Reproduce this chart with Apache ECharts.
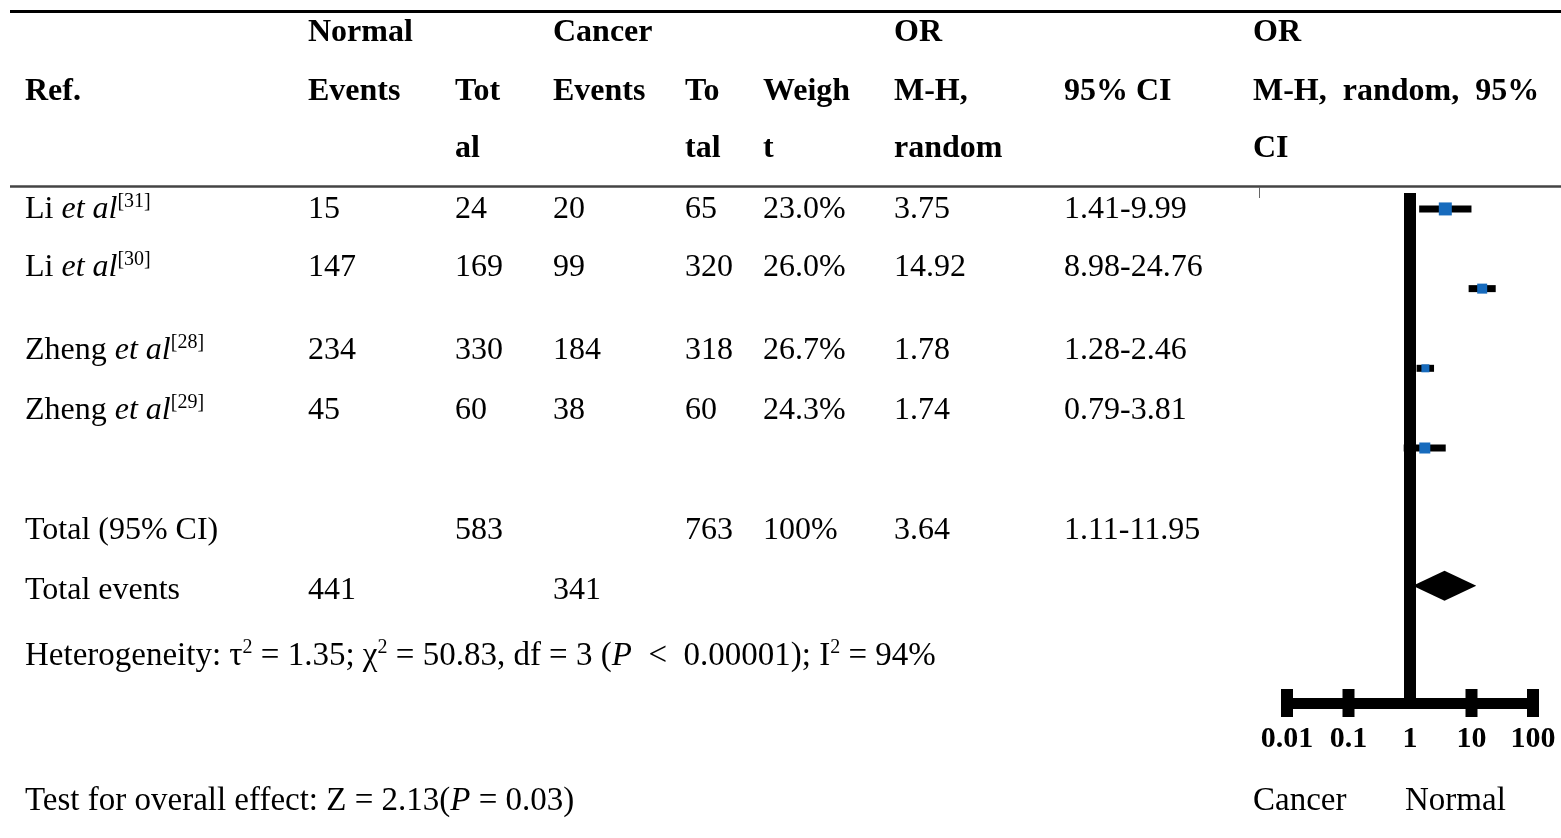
<!DOCTYPE html>
<html>
<head>
<meta charset="utf-8">
<script src="https://cdn.jsdelivr.net/npm/echarts@6/dist/echarts.min.js"></script>
<style>
html,body{margin:0;padding:0;background:#fff;}
#chart{width:1561px;height:838px;}
</style>
</head>
<body>
<div id="chart"></div>
<script>
// ---------------- DATA ----------------
const studies = ['Li', 'Li', 'Zheng', 'Zheng'];
const refNums = [31, 30, 28, 29];
const normalEvents = [15, 147, 234, 45];
const normalTotal = [24, 169, 330, 60];
const cancerEvents = [20, 99, 184, 38];
const cancerTotal = [65, 320, 318, 60];
const weights = [23.0, 26.0, 26.7, 24.3];
const orValues = [3.75, 14.92, 1.78, 1.74];
const ciLow = [1.41, 8.98, 1.28, 0.79];
const ciHigh = [9.99, 24.76, 2.46, 3.81];

const totalNormal = 583;
const totalCancer = 763;
const totalWeight = 100;
const totalOR = 3.64;
const totalLow = 1.11;
const totalHigh = 11.95;
const totalEventsNormal = 441;
const totalEventsCancer = 341;

const tau2 = '1.35';
const chi2 = '50.83';
const dfHet = 3;
const pHet = '0.00001';
const i2 = 94;
const zOverall = '2.13';
const pOverall = '0.03';

const tickValues = [0.01, 0.1, 1, 10, 100];
const tickLabels = ['0.01', '0.1', '1', '10', '100'];

// ---------------- LAYOUT / STYLE ----------------
const FONT = '"Liberation Serif", "Times New Roman", serif';
const plotRows = [1, 2, 3, 4];      // plot row slots (y axis units)
const summaryRow = 5.73;
const yMin = 0.8, yMax = 7.2;
const markerSizes = [13, 10, 8, 11];
const colX = {ref: 25, nEv: 308, nTot: 455, cEv: 553, cTot: 685, wt: 763, or: 894, ci: 1064, plot: 1253};
const rowY = [210, 268, 351, 411];
const totalY = 531, eventsY = 591, hetY = 656, testY = 801;

const rich = {
  n: {fontSize: 32, fontFamily: FONT, lineHeight: 36, fill: '#000'},
  it: {fontSize: 32, fontFamily: FONT, fontStyle: 'italic', lineHeight: 36, fill: '#000'},
  sup: {fontSize: 20, fontFamily: FONT, lineHeight: 19, verticalAlign: 'top', fill: '#000'}
};
const richHet = {
  n: {fontSize: 33, fontFamily: FONT, lineHeight: 36, fill: '#000'},
  it: {fontSize: 33, fontFamily: FONT, fontStyle: 'italic', lineHeight: 36, fill: '#000'},
  sup: {fontSize: 20, fontFamily: FONT, lineHeight: 19, verticalAlign: 'top', fill: '#000'}
};

function txt(x, y, text, style) {
  return {
    type: 'text', x: x, y: y, silent: true,
    style: Object.assign({
      text: text, fill: '#000', fontSize: 32, fontFamily: FONT,
      align: 'left', verticalAlign: 'middle', rich: rich
    }, style || {})
  };
}
function head(x, y, text) {
  return txt(x, y, text, {fontSize: 32, fontWeight: 'bold'});
}

const graphics = [];
// table rules
graphics.push({type: 'line', silent: true, shape: {x1: 10, y1: 11.5, x2: 1561, y2: 11.5}, style: {stroke: '#000', lineWidth: 3}});
graphics.push({type: 'line', silent: true, shape: {x1: 10, y1: 186.5, x2: 1561, y2: 186.5}, style: {stroke: '#444', lineWidth: 2.5}});
graphics.push({type: 'line', silent: true, shape: {x1: 1259.5, y1: 187, x2: 1259.5, y2: 198}, style: {stroke: '#666', lineWidth: 1}});

// header
const h1 = 33, h2 = 92, h3 = 149;
graphics.push(head(colX.nEv, h1, 'Normal'));
graphics.push(head(colX.cEv, h1, 'Cancer'));
graphics.push(head(colX.or, h1, 'OR'));
graphics.push(head(colX.plot, h1, 'OR'));
graphics.push(head(colX.ref, h2, 'Ref.'));
graphics.push(head(colX.nEv, h2, 'Events'));
graphics.push(head(colX.nTot, h2, 'Tot'));
graphics.push(head(colX.cEv, h2, 'Events'));
graphics.push(head(colX.cTot, h2, 'To'));
graphics.push(head(colX.wt, h2, 'Weigh'));
graphics.push(head(colX.or, h2, 'M-H,'));
graphics.push(head(colX.ci, h2, '95% CI'));
graphics.push(head(colX.plot, h2, 'M-H,  random,  95%'));
graphics.push(head(colX.nTot, h3, 'al'));
graphics.push(head(colX.cTot, h3, 'tal'));
graphics.push(head(colX.wt, h3, 't'));
graphics.push(head(colX.or, h3, 'random'));
graphics.push(head(colX.plot, h3, 'CI'));

// study rows
studies.forEach(function (name, i) {
  const y = rowY[i];
  graphics.push(txt(colX.ref, y, '{n|' + name + ' }{it|et al}{sup|[' + refNums[i] + ']}'));
  graphics.push(txt(colX.nEv, y, String(normalEvents[i])));
  graphics.push(txt(colX.nTot, y, String(normalTotal[i])));
  graphics.push(txt(colX.cEv, y, String(cancerEvents[i])));
  graphics.push(txt(colX.cTot, y, String(cancerTotal[i])));
  graphics.push(txt(colX.wt, y, weights[i].toFixed(1) + '%'));
  graphics.push(txt(colX.or, y, orValues[i].toFixed(2)));
  graphics.push(txt(colX.ci, y, ciLow[i].toFixed(2) + '-' + ciHigh[i].toFixed(2)));
});

// totals
graphics.push(txt(colX.ref, totalY, 'Total (95% CI)'));
graphics.push(txt(colX.nTot, totalY, String(totalNormal)));
graphics.push(txt(colX.cTot, totalY, String(totalCancer)));
graphics.push(txt(colX.wt, totalY, totalWeight + '%'));
graphics.push(txt(colX.or, totalY, totalOR.toFixed(2)));
graphics.push(txt(colX.ci, totalY, totalLow.toFixed(2) + '-' + totalHigh.toFixed(2)));
graphics.push(txt(colX.ref, eventsY, 'Total events'));
graphics.push(txt(colX.nEv, eventsY, String(totalEventsNormal)));
graphics.push(txt(colX.cEv, eventsY, String(totalEventsCancer)));

graphics.push(txt(colX.ref, hetY,
  '{n|Heterogeneity: τ}{sup|2}{n| = ' + tau2 + '; χ}{sup|2}{n| = ' + chi2 + ', df = ' + dfHet +
  ' (}{it|P}{n|  <  ' + pHet + '); I}{sup|2}{n| = ' + i2 + '%}', {rich: richHet}));
graphics.push(txt(colX.ref, testY,
  '{n|Test for overall effect: Z = ' + zOverall + '(}{it|P}{n| = ' + pOverall + ')}', {rich: richHet}));

// favours labels
graphics.push(txt(1253, 801, 'Cancer', {fontSize: 33}));
graphics.push(txt(1405, 801, 'Normal', {fontSize: 33}));

// ---------------- SERIES DATA ----------------
const studyData = orValues.map(function (v, i) { return [ciLow[i], ciHigh[i], v, plotRows[i]]; });
const summaryData = [[totalLow, totalHigh, totalOR, summaryRow]];
const tickData = tickValues.filter(function (v) { return v !== 1; }).map(function (v) { return [v, yMax]; });

const chart = echarts.init(document.getElementById('chart'), null, {renderer: 'canvas'});
chart.setOption({
  animation: false,
  backgroundColor: '#fff',
  grid: {left: 1287, top: 193, width: 246, height: 510, containLabel: false},
  xAxis: {
    type: 'log', logBase: 10, min: 0.01, max: 100,
    axisLine: {onZero: false, lineStyle: {color: '#000', width: 11, cap: 'butt'}},
    axisTick: {show: false},
    splitLine: {show: false},
    axisLabel: {
      fontSize: 30, fontFamily: FONT, fontWeight: 'bold', color: '#000', margin: 21,
      formatter: function (val) {
        let best = 0, bd = Infinity;
        tickValues.forEach(function (t, k) {
          const d = Math.abs(Math.log10(t) - Math.log10(val));
          if (d < bd) { bd = d; best = k; }
        });
        return tickLabels[best];
      }
    }
  },
  yAxis: {type: 'value', inverse: true, min: yMin, max: yMax, show: false},
  series: [
    {
      type: 'line', silent: true, symbol: 'none', z: 3,
      data: [[1, yMin], [1, yMax]],
      lineStyle: {color: '#000', width: 12, cap: 'butt'}
    },
    {
      type: 'scatter', silent: true, clip: false, z: 3,
      symbol: 'rect', symbolSize: [12, 28],
      itemStyle: {color: '#000', opacity: 1},
      data: tickData
    },
    {
      type: 'custom', silent: true, z: 4,
      data: studyData,
      encode: {x: [0, 1, 2], y: 3},
      renderItem: function (params, api) {
        const y = api.value(3);
        const pLo = api.coord([api.value(0), y]);
        const pHi = api.coord([api.value(1), y]);
        const pOr = api.coord([api.value(2), y]);
        const s = markerSizes[params.dataIndex];
        return {
          type: 'group',
          children: [
            {type: 'line', shape: {x1: pLo[0], y1: pLo[1], x2: pHi[0], y2: pHi[1]}, style: {stroke: '#000', lineWidth: 7}},
            {type: 'rect', shape: {x: pOr[0] - s / 2, y: pOr[1] - s / 2, width: s, height: s}, style: {fill: '#176bbd'}}
          ]
        };
      }
    },
    {
      type: 'custom', silent: true, z: 4,
      data: summaryData,
      encode: {x: [0, 1, 2], y: 3},
      renderItem: function (params, api) {
        const y = api.value(3);
        const pLo = api.coord([api.value(0), y]);
        const pHi = api.coord([api.value(1), y]);
        const pOr = api.coord([api.value(2), y]);
        const h = 15;
        return {
          type: 'polygon',
          shape: {points: [[pLo[0], pLo[1]], [pOr[0], pOr[1] - h], [pHi[0], pHi[1]], [pOr[0], pOr[1] + h]]},
          style: {fill: '#000'}
        };
      }
    }
  ],
  graphic: graphics
});
</script>
</body>
</html>
